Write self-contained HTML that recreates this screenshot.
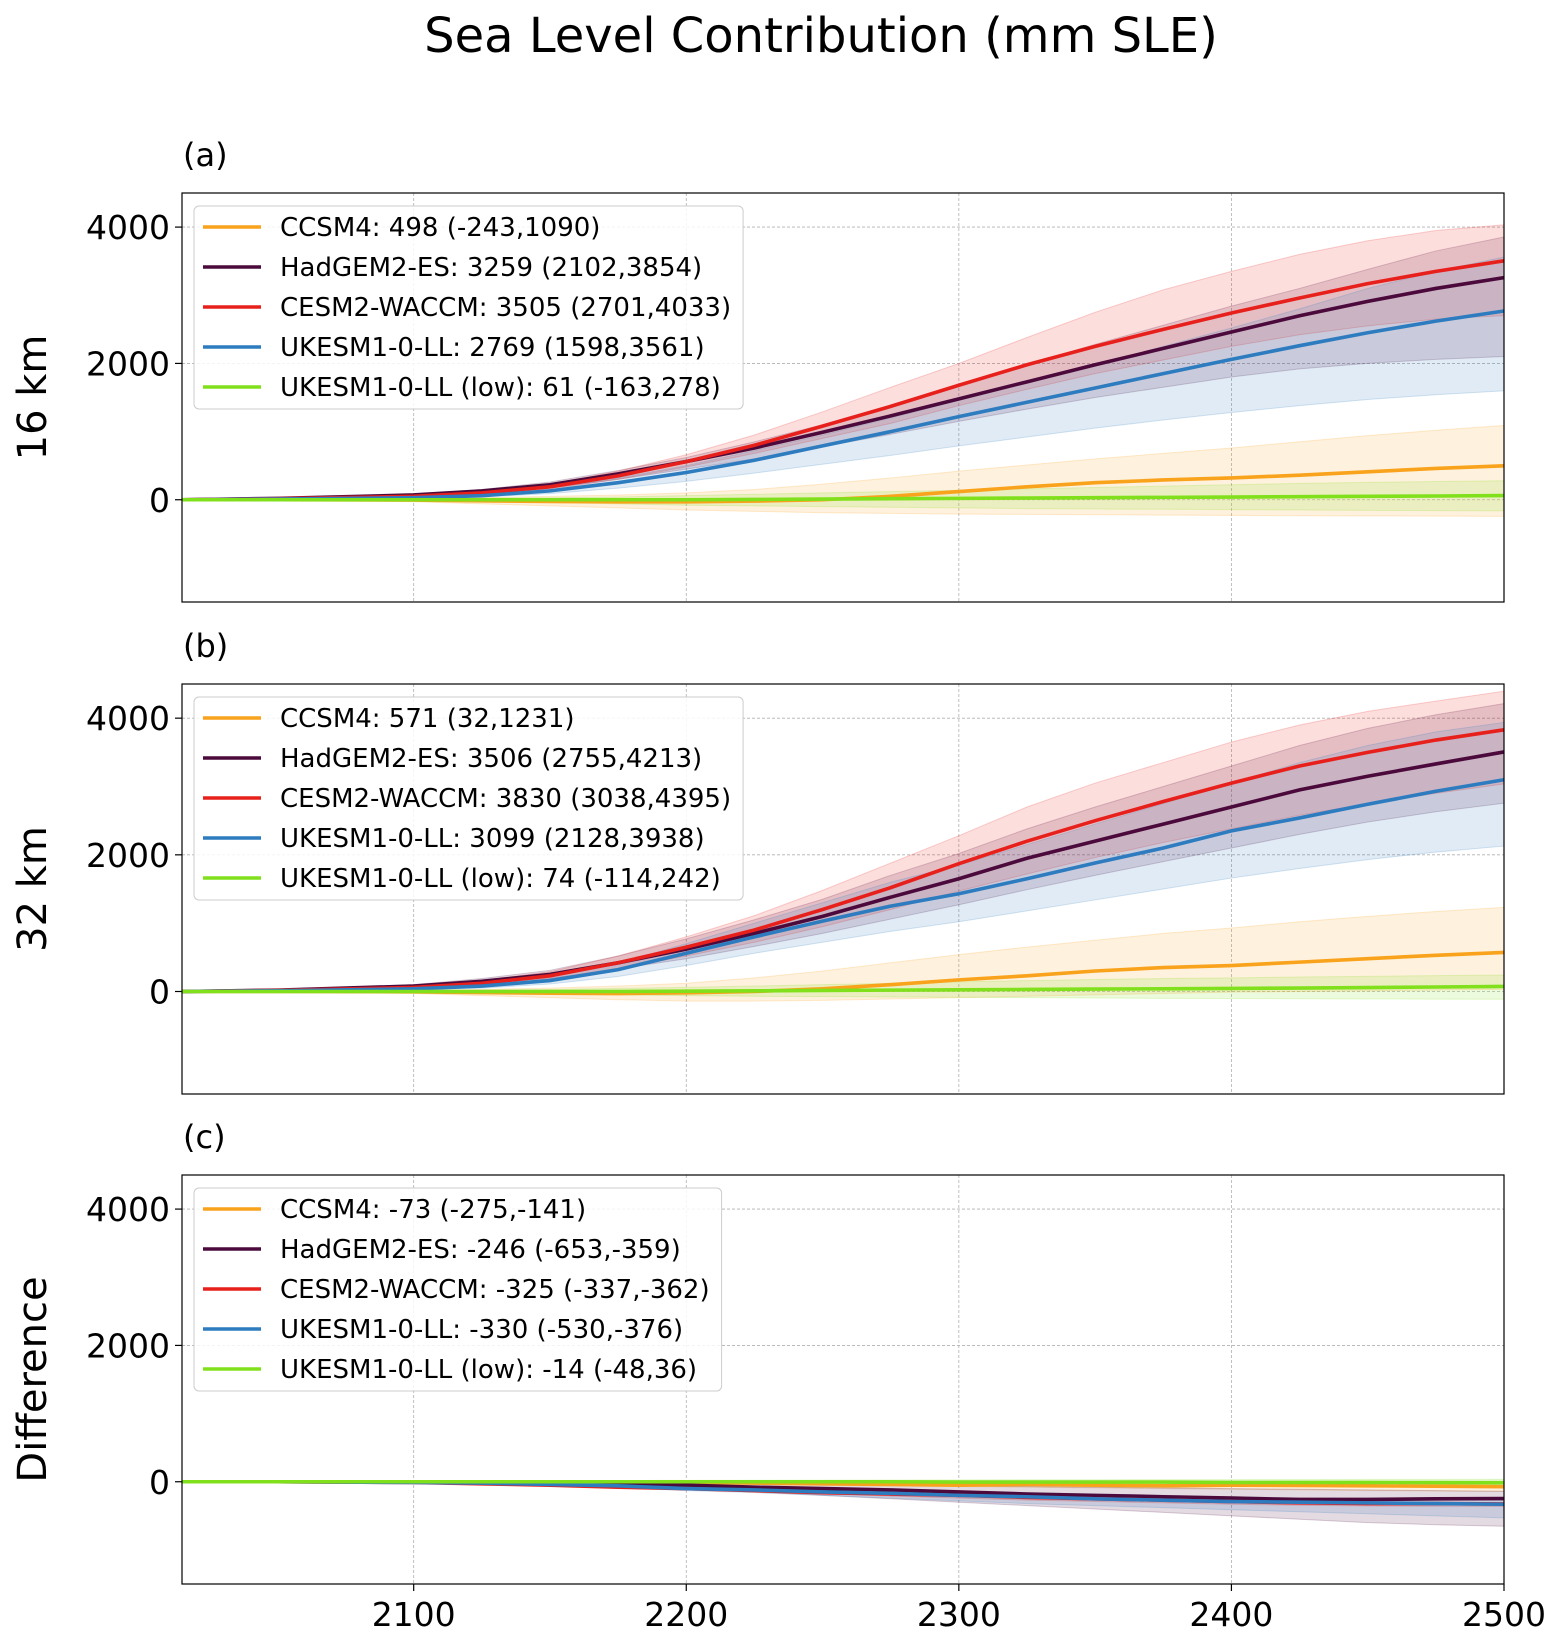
<!DOCTYPE html>
<html><head><meta charset="utf-8"><style>
html,body{margin:0;padding:0;background:#fff}
svg text{font-family:"DejaVu Sans","Liberation Sans",sans-serif}
</style></head><body>
<svg id="fig" width="1553" height="1630" xmlns="http://www.w3.org/2000/svg">
<text x="821" y="52" font-size="48" text-anchor="middle" fill="#000">Sea Level Contribution (mm SLE)</text>
</svg>
<script>
const years=[2015,2050,2100,2125,2150,2175,2200,2225,2250,2275,2300,2325,2350,2375,2400,2425,2450,2475,2500];
const names=["CCSM4","HadGEM2-ES","CESM2-WACCM","UKESM1-0-LL","UKESM1-0-LL (low)"];
const colors=["#f9a21b","#4b0a3b","#e8201c","#2d7cbf","#80e01b"];
const yTicks=[0,2000,4000];
const xTicks=[2100,2200,2300,2400,2500];
// Panel a
const aMid=[[0,0,-5,-15,-25,-30,-30,-20,0,50,120,190,250,290,320,360,410,460,498],
[0,20,70,130,220,380,560,760,990,1230,1480,1730,1980,2220,2460,2700,2910,3100,3259],
[0,15,50,100,190,350,560,800,1080,1370,1680,1980,2250,2500,2740,2960,3170,3350,3505],
[0,10,30,60,130,250,400,580,790,1000,1220,1430,1640,1850,2060,2260,2450,2620,2769],
[0,0,0,0,0,0,0,5,10,15,20,25,30,35,40,45,50,55,61]];
const aLo=[[0,-5,-30,-60,-90,-120,-150,-170,-190,-200,-210,-215,-220,-225,-230,-235,-238,-240,-243],
[0,15,55,100,170,300,450,600,780,960,1150,1330,1500,1650,1800,1920,2000,2060,2102],
[0,10,40,80,150,300,480,680,900,1120,1380,1620,1850,2050,2250,2420,2550,2650,2701],
[0,5,20,40,90,170,270,390,520,650,790,920,1050,1170,1280,1380,1470,1540,1598],
[0,-5,-10,-20,-40,-60,-80,-90,-100,-110,-120,-130,-135,-140,-145,-150,-155,-160,-163]];
const aHi=[[0,5,20,30,50,70,100,150,230,320,420,510,600,680,760,850,940,1020,1090],
[0,25,80,150,260,430,620,850,1100,1390,1680,1980,2280,2560,2840,3100,3380,3650,3854],
[0,20,60,120,230,420,660,950,1290,1650,2000,2380,2750,3080,3350,3600,3800,3950,4033],
[0,15,40,80,170,320,500,720,950,1200,1460,1720,1980,2250,2520,2800,3100,3350,3561],
[0,5,10,20,30,40,60,80,100,120,140,160,180,200,220,240,255,268,278]];
const aLeg=["498 (-243,1090)","3259 (2102,3854)","3505 (2701,4033)","2769 (1598,3561)","61 (-163,278)"];
// Panel b
const bMid=[[0,0,-5,-15,-25,-30,-20,0,40,100,170,230,300,350,380,430,480,530,571],
[0,20,80,150,250,420,620,850,1100,1380,1650,1950,2200,2450,2700,2950,3150,3330,3506],
[0,15,60,120,230,420,650,900,1200,1520,1870,2200,2500,2780,3050,3300,3500,3680,3830],
[0,10,40,80,160,320,560,800,1030,1250,1430,1650,1880,2100,2350,2540,2740,2930,3099],
[0,0,0,0,0,0,5,10,15,20,25,30,35,40,45,50,58,66,74]];
const bLo=[[0,-5,-30,-60,-90,-120,-140,-140,-130,-110,-90,-70,-50,-30,-10,0,10,20,32],
[0,15,60,110,190,330,480,660,850,1060,1270,1490,1700,1900,2100,2300,2480,2630,2755],
[0,10,45,90,180,330,520,720,950,1200,1470,1720,1960,2180,2380,2580,2750,2900,3038],
[0,5,25,50,110,220,380,560,720,880,1020,1180,1340,1500,1660,1800,1930,2040,2128],
[0,-5,-10,-20,-35,-50,-60,-70,-75,-80,-85,-90,-95,-100,-103,-106,-109,-112,-114]];
const bHi=[[0,5,20,30,50,80,120,200,300,420,540,650,750,850,930,1020,1100,1170,1231],
[0,25,100,190,310,520,770,1050,1350,1700,2020,2380,2700,3000,3300,3600,3850,4050,4213],
[0,20,80,160,290,520,800,1110,1480,1880,2280,2700,3050,3350,3650,3900,4100,4250,4395],
[0,15,55,110,210,410,700,1000,1300,1600,1850,2150,2450,2750,3050,3350,3600,3800,3938],
[0,5,10,20,30,45,60,80,100,120,140,160,175,190,200,212,222,232,242]];
const bLeg=["571 (32,1231)","3506 (2755,4213)","3830 (3038,4395)","3099 (2128,3938)","74 (-114,242)"];
// Panel c
const cMid=[[0,0,0,0,0,0,-10,-20,-30,-40,-50,-40,-50,-60,-50,-55,-60,-65,-73],
[0,0,-5,-10,-20,-30,-50,-80,-100,-120,-150,-180,-200,-220,-240,-260,-260,-250,-246],
[0,0,-10,-30,-50,-80,-100,-130,-160,-180,-200,-230,-250,-270,-290,-310,-320,-320,-325],
[0,0,-10,-20,-40,-60,-100,-120,-150,-170,-200,-220,-250,-270,-290,-300,-310,-320,-330],
[0,0,0,0,0,0,0,0,0,0,-5,-5,-5,-5,-10,-10,-10,-12,-14]];
const cLo=[[0,0,-5,-10,-15,-20,-30,-40,-50,-60,-70,-80,-90,-100,-110,-120,-130,-135,-141],
[0,0,-15,-30,-50,-80,-110,-150,-200,-250,-300,-350,-400,-450,-500,-550,-600,-630,-653],
[0,0,-15,-35,-60,-90,-120,-150,-180,-210,-240,-270,-290,-310,-330,-345,-355,-360,-362],
[0,0,-15,-30,-60,-90,-130,-160,-200,-240,-280,-320,-350,-380,-410,-440,-470,-500,-530],
[0,0,-5,-10,-15,-20,-25,-28,-30,-32,-35,-38,-40,-42,-44,-45,-46,-47,-48]];
const cHi=[[0,0,0,0,0,0,0,-5,-10,-15,-20,-25,-30,-35,-40,-45,-50,-55,-60],
[0,0,0,0,-5,-10,-20,-30,-40,-50,-60,-70,-80,-90,-100,-110,-120,-130,-140],
[0,0,-5,-25,-40,-70,-90,-110,-140,-160,-180,-200,-220,-240,-260,-280,-290,-300,-310],
[0,0,-5,-10,-20,-30,-60,-80,-100,-120,-140,-160,-180,-200,-220,-240,-250,-260,-270],
[0,0,5,10,15,18,20,22,24,26,28,29,30,31,32,33,34,35,36]];
const cLeg=["-73 (-275,-141)","-246 (-653,-359)","-325 (-337,-362)","-330 (-530,-376)","-14 (-48,36)"];

const NS="http://www.w3.org/2000/svg";
const svg=document.getElementById('fig');
const X0=182,X1=1504,XMIN=2015,XMAX=2500,YMIN=-1500,YMAX=4500;
function mk(t,a,p){const e=document.createElementNS(NS,t);for(const k in a)e.setAttribute(k,a[k]);(p||svg).appendChild(e);return e;}
function xs(v){return X0+(v-XMIN)/(XMAX-XMIN)*(X1-X0);}
const panels=[
 {top:193,bot:602,lab:"(a)",yl:"16 km",mid:aMid,lo:aLo,hi:aHi,leg:aLeg,key:"a"},
 {top:684,bot:1094,lab:"(b)",yl:"32 km",mid:bMid,lo:bLo,hi:bHi,leg:bLeg,key:"b"},
 {top:1175,bot:1584,lab:"(c)",yl:"Difference",mid:cMid,lo:cLo,hi:cHi,leg:cLeg,key:"c"}];
panels.forEach((P,pi)=>{
 const ys=v=>P.bot-(v-YMIN)/(YMAX-YMIN)*(P.bot-P.top);
 const g=mk('g',{});
 
 
 const grid=mk('g',{},g);
 xTicks.forEach(t=>{const l=mk('line',{x1:xs(t),x2:xs(t),y1:P.top,y2:P.bot,stroke:'#b0b0b0','stroke-width':0.8,'stroke-dasharray':'3,2'},grid);
  });
 yTicks.forEach(t=>{const l=mk('line',{x1:X0,x2:X1,y1:ys(t),y2:ys(t),stroke:'#b0b0b0','stroke-width':0.8,'stroke-dasharray':'3,2'},grid);
  
  mk('line',{x1:X0-7,x2:X0,y1:ys(t),y2:ys(t),stroke:'#000','stroke-width':1.2},g);
  const tx=mk('text',{x:X0-12,y:ys(t)+12,'font-size':33,'text-anchor':'end'},g);tx.textContent=t;
  });
 for(let s=0;s<5;s++){
  let d='';years.forEach((yr,i)=>{d+=(i?'L':'M')+xs(yr)+','+ys(P.hi[s][i]);});
  for(let i=years.length-1;i>=0;i--)d+='L'+xs(years[i])+','+ys(P.lo[s][i]);
  const b=mk('path',{d:d+'Z',fill:colors[s],'fill-opacity':0.15,stroke:colors[s],'stroke-opacity':0.2},g);
  
  
 }
 for(let s=0;s<5;s++){
  const pts=years.map((yr,i)=>xs(yr)+','+ys(P.mid[s][i])).join(' ');
  const l=mk('polyline',{points:pts,fill:'none',stroke:colors[s],'stroke-width':3.6},g);
  
  
 }
 mk('rect',{x:X0,y:P.top,width:X1-X0,height:P.bot-P.top,fill:'none',stroke:'#000','stroke-width':1.2},g);
 if(pi==2) xTicks.forEach(t=>{mk('line',{x1:xs(t),x2:xs(t),y1:P.bot,y2:P.bot+7,stroke:'#000','stroke-width':1.2},g);
  const tx=mk('text',{x:xs(t),y:P.bot+42,'font-size':33,'text-anchor':'middle'},g);tx.textContent=t;
  });
 const pl=mk('text',{x:183,y:P.top-27,'font-size':32,'font-family':'"Liberation Serif","DejaVu Serif",serif'},g);pl.textContent=P.lab;
 
 const yl=mk('text',{x:0,y:0,'font-size':40,'text-anchor':'middle',transform:`translate(46,${(P.top+P.bot)/2}) rotate(-90)`},g);yl.textContent=P.yl;
 
 // legend
 const lg=mk('g',{},g);
 
 
 const box=mk('rect',{x:194,y:P.top+13,width:540,height:203,rx:5,fill:'#fff','fill-opacity':0.85,stroke:'#ccc'},lg);
 let mw=0;
 for(let s=0;s<5;s++){
  const y=P.top+34+s*40;
  const e=mk('g',{},lg);
  
  
  mk('line',{x1:203,x2:261,y1:y,y2:y,stroke:colors[s],'stroke-width':3.6},e);
  const t=mk('text',{x:280,y:y+9,'font-size':26},e);t.textContent=names[s]+': '+P.leg[s];
  mw=Math.max(mw,t.getComputedTextLength());
 }
 box.setAttribute('width',280+mw+12-194);
});
</script>
</body></html>
